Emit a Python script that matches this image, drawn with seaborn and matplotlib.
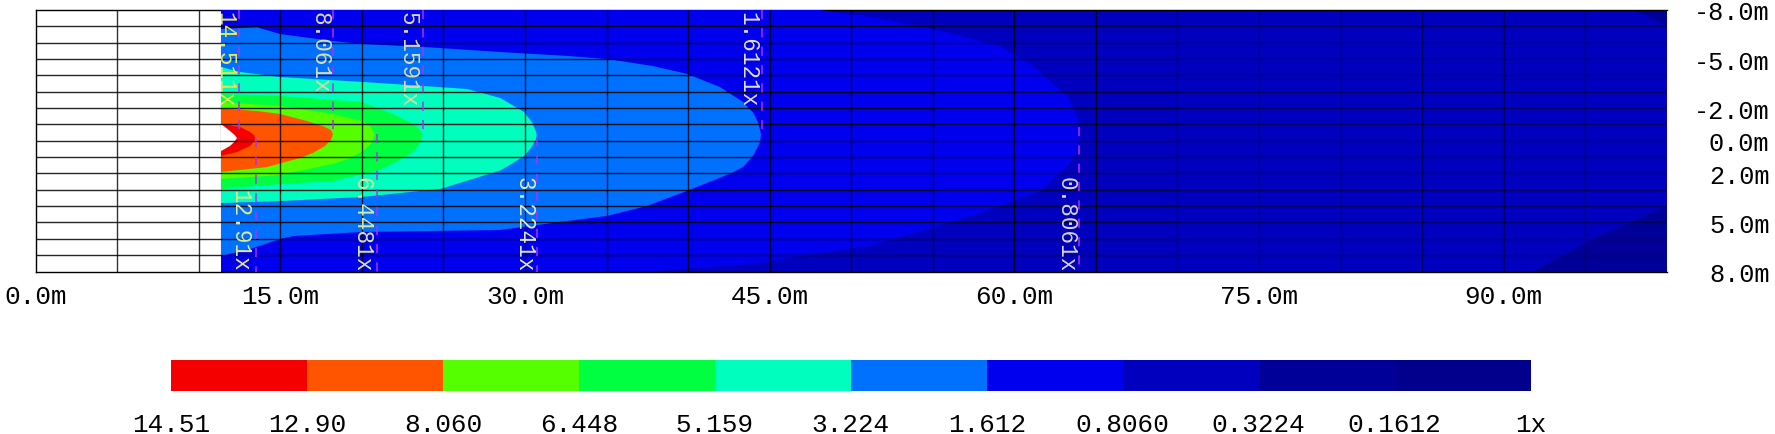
import matplotlib
matplotlib.use("Agg")
import matplotlib.pyplot as plt
from matplotlib.colors import ListedColormap
import numpy as np
import seaborn as sns

# tick labels
x_ticks = [0, 15, 30, 45, 60, 75, 90]
x_labels = ["0.0m", "15.0m", "30.0m", "45.0m", "60.0m", "75.0m", "90.0m"]
y_ticks = [-8, -5, -2, 0, 2, 5, 8]
y_labels = ["-8.0m", "-5.0m", "-2.0m", "0.0m", "2.0m", "5.0m", "8.0m"]

# colour legend, red (high) to dark blue (low)
level_labels = ["14.51", "12.90", "8.060", "6.448", "5.159", "3.224", "1.612",
                "0.8060", "0.3224", "0.1612", "1x"]
level_colors = ["#f50000", "#ff5500", "#55ff00", "#00ff40", "#00ffbf", "#0070ff",
                "#0000ee", "#0000be", "#000098", "#00008c"]

mesh_start = 11.36

# contours, metres (x along the tunnel, y across it)
corner_top_x = [97.94, 100, 100]
corner_top_y = [-8, -8, -7.02]
corner_bot_x = [91.8, 95.49, 100, 100]
corner_bot_y = [8, 6.01, 3.99, 8]

c0806_x = [11.36, 48.09, 51.95, 55.02, 59.13, 61.15, 63.23, 63.75, 63.97, 64.0, 63.97, 63.75,
           63.23, 61.57, 59.13, 58.08, 54.77, 51.03, 46.31, 43.98, 39.26, 37.66, 11.36]
c0806_y = [-8, -8, -7.45, -6.84, -5.8, -4.57, -2.74, -1.8, -0.9, -0.4, -0.11, 0.8,
           1.54, 3.07, 3.99, 4.36, 5.4, 6.44, 7.11, 7.54, 7.85, 8, 8]

c1612_x = [11.36, 13.57, 14.98, 18.23, 20.0, 23.75, 28.47, 32.58, 35.03, 37.85, 39.93,
           41.95, 43.37, 44.0, 44.3, 44.47, 44.4, 44.0, 43.37, 42.7, 41.77, 39.93, 37.48,
           35.03, 32.15, 28.47, 24.36, 20.0, 15.78, 14.98, 13.14, 11.36]
c1612_y = [-6.84, -6.94, -6.53, -6.1, -5.92, -5.74, -5.43, -5.19, -5.0, -4.57, -4.09,
           -3.29, -2.37, -1.7, -1.1, -0.4, 0.1, 0.9, 1.61, 1.95, 2.34, 3.07, 3.99,
           4.6, 4.97, 5.46, 5.52, 5.58, 5.83, 6.01, 6.63, 7.05]

c3224_x = [11.36, 12.53, 14.98, 20.0, 23.75, 26.44, 28.47, 29.94, 30.45, 30.68, 30.72, 30.68,
           30.4, 29.94, 29.2, 28.47, 24.8, 20.0, 14.98, 11.36]
c3224_y = [-4.51, -4.21, -3.9, -3.6, -3.35, -3.17, -2.62, -1.76, -1.1, -0.54, -0.3, -0.11,
           0.4, 0.93, 1.4, 1.82, 2.95, 3.44, 3.69, 3.81]

c5159_x = [11.36, 14.98, 20.0, 21.9, 22.6, 23.13, 23.55, 23.69, 23.6, 23.13, 22.2, 20.92, 18.23, 14.98, 11.36]
c5159_y = [-2.86, -2.74, -2.37, -1.64, -1.3, -1.03, -0.7, -0.41, 0.1, 0.69, 1.25, 1.85, 2.46, 2.65, 2.95]

c6448_x = [11.36, 14.98, 18.23, 20.0, 20.55, 20.8, 20.6, 20.0, 19.2, 18.23, 14.98, 11.36]
c6448_y = [-2.37, -2.13, -1.64, -1.21, -0.85, -0.41, 0.15, 0.69, 1.1, 1.42, 2.1, 2.34]

c8060_x = [11.36, 13.57, 14.98, 16.63, 17.74, 18.1, 18.23, 18.1, 17.74, 17.0, 16.2, 14.18, 11.36]
c8060_y = [-1.97, -1.82, -1.64, -1.21, -0.84, -0.65, -0.41, -0.05, 0.32, 0.75, 1.06, 1.61, 1.91]

c1290_x = [11.36, 12.53, 13.14, 13.4, 13.45, 13.4, 13.14, 12.34, 11.36]
c1290_y = [-1.03, -0.84, -0.54, -0.32, -0.17, 0.02, 0.32, 0.69, 0.93]

notch_x = [11.36, 11.91, 12.2, 12.34, 12.2, 11.91, 11.36]
notch_y = [-1.03, -0.6, -0.35, -0.17, 0.05, 0.32, 0.63]

# contour labels, and where their dashed marker lines sit
label_text = ["14.511x", "8.061x", "5.1591x", "1.6121x", "12.91x", "6.4481x", "3.2241x", "0.8061x"]
label_x = [11.6, 17.43, 22.83, 43.67, 12.53, 20.0, 29.94, 63.17]
label_color = ["#e8e850", "#dcdcb0", "#dcdcb0", "#e0e0e0", "#e4e890", "#d8e8a0", "#e0e8c8", "#d8d8d8"]
dash_x = [12.45, 18.25, 23.76, 44.51, 13.49, 20.91, 30.75, 63.98]
dash_from = [-8, -8, -8, -8, -0.17, -0.41, -0.2, -0.85]
dash_to = [-0.1, -0.41, -0.41, -0.3, 8, 8, 8, 8]

sns.set_theme(style="white")
plt.rcParams["font.family"] = ["Liberation Mono", "DejaVu Sans"]

W, H = 1775, 435
fig = plt.figure(figsize=(W / 100, H / 100), dpi=100, facecolor="white")
ax = fig.add_axes([35.7 / W, 1 - 272.5 / H, (1666.7 - 35.7) / W, (272.5 - 11) / H])

# filled bands, outermost first
ax.axvspan(mesh_start, 100, color=level_colors[7], lw=0, zorder=1)
ax.fill(corner_top_x, corner_top_y, color=level_colors[8], lw=0, zorder=2)
ax.fill(corner_bot_x, corner_bot_y, color=level_colors[8], lw=0, zorder=2)
bands = [(c0806_x, c0806_y, level_colors[6]), (c1612_x, c1612_y, level_colors[5]),
         (c3224_x, c3224_y, level_colors[4]), (c5159_x, c5159_y, level_colors[3]),
         (c6448_x, c6448_y, level_colors[2]), (c8060_x, c8060_y, level_colors[1]),
         (c1290_x, c1290_y, level_colors[0]), (notch_x, notch_y, "white")]
for i, (bx, by, col) in enumerate(bands):
    ax.fill(bx, by, color=col, lw=0, zorder=3 + i)

# mesh, fading out towards the dark right end
ax.vlines(np.arange(5, 70, 5), -8, 8, color="black", lw=1.0, alpha=0.8, zorder=12)
ax.vlines(np.arange(70, 100, 5), -8, 8, color="black", lw=1.0, alpha=0.45, zorder=12)
ax.hlines(np.arange(-7, 8), 0, 55, color="black", lw=1.0, alpha=0.85, zorder=12)
ax.hlines(np.arange(-7, 8), 55, 70, color="black", lw=1.0, alpha=0.65, zorder=12)
ax.hlines(np.arange(-7, 8), 70, 100, color="black", lw=1.0, alpha=0.45, zorder=12)

# dashed contour markers and their labels
ax.vlines(dash_x, dash_from, dash_to, color="#b030f0", lw=1.1, linestyles=(0, (6, 6)), zorder=13)
for i, name in enumerate(label_text):
    upper = i < 4
    ax.text(label_x[i], -7.95 if upper else 7.97, name, rotation=-90, ha="center",
            va="top" if upper else "bottom", color=label_color[i], fontsize=16.3, zorder=14)

ax.set_xlim(0, 100)
ax.set_ylim(8, -8)
ax.set_xticks(x_ticks, x_labels)
ax.set_yticks(y_ticks, y_labels)
ax.yaxis.tick_right()
ax.tick_params(axis="both", length=0, labelsize=18.7, colors="black")
ax.tick_params(axis="x", pad=9)
ax.tick_params(axis="y", labelsize=18.2, pad=74)
for t in ax.get_yticklabels():
    t.set_ha("right")
for s in ax.spines.values():
    s.set_color("black")
    s.set_linewidth(1.0)
ax.spines["right"].set_visible(False)

# legend strip
cax = fig.add_axes([171 / W, 1 - 391.7 / H, (1530.6 - 171) / W, (391.7 - 361) / H])
sns.heatmap([np.arange(len(level_colors))], ax=cax, cmap=ListedColormap(level_colors),
            cbar=False, xticklabels=False, yticklabels=False)
cax.set_xticks(np.arange(len(level_labels)), level_labels, rotation=0)
cax.tick_params(axis="x", length=0, labelsize=18.7, pad=15, colors="black")
cax.set_yticks([])

fig.savefig("out.png", dpi=100)
